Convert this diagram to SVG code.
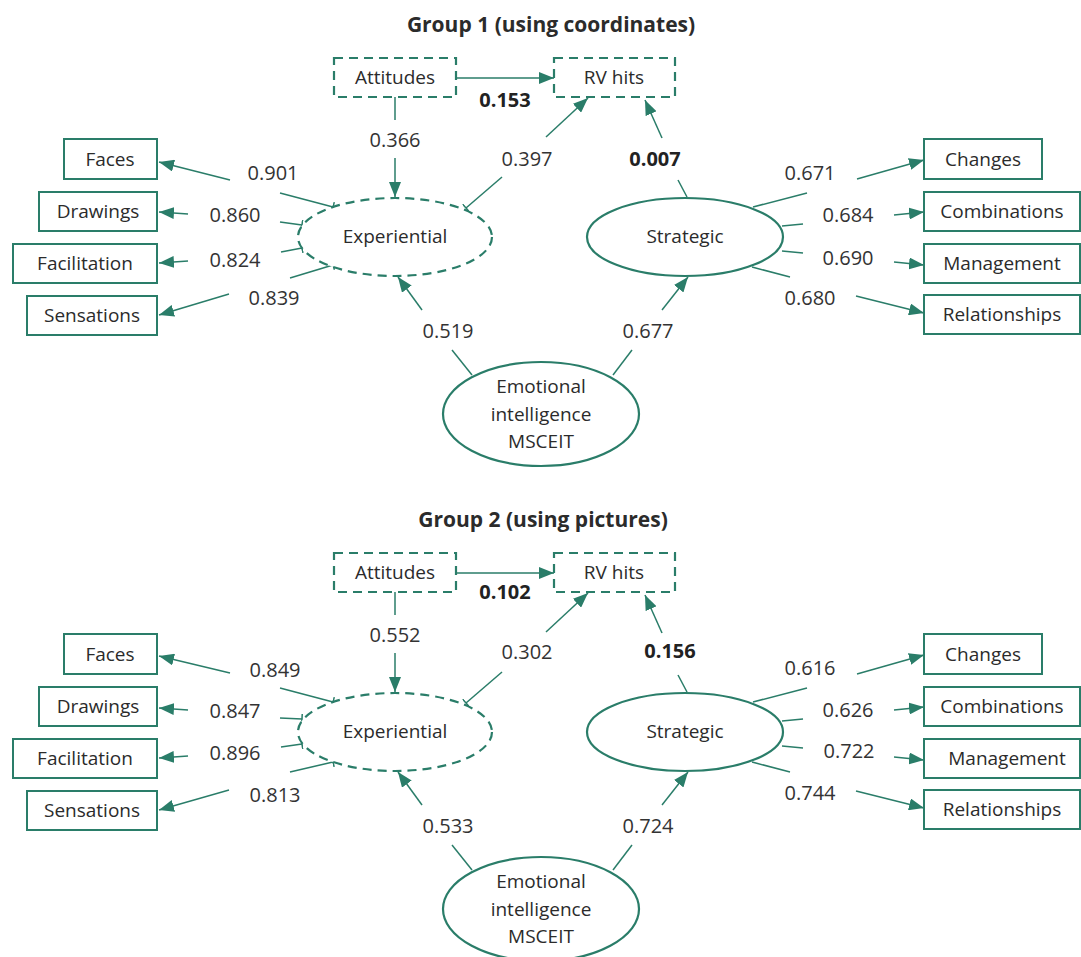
<svg xmlns="http://www.w3.org/2000/svg" width="1081" height="957" viewBox="0 0 1081 957">
<style>
text{font-family:"Open Sans","Noto Sans","Liberation Sans",sans-serif;fill:#2b2b2b;font-size:19px;text-anchor:middle}
.title{font-size:21px;font-weight:bold}
.n{font-size:20px;fill:#333}
.b{font-weight:bold;fill:#222}
.box{fill:#fff;stroke:#2a7d69;stroke-width:2}
.dbox{fill:#fff;stroke:#2a7d69;stroke-width:2.2;stroke-dasharray:9,6}
.ell{fill:#fff;stroke:#2a7d69;stroke-width:2.2}
.dell{fill:#fff;stroke:#2a7d69;stroke-width:2.2;stroke-dasharray:9,6}
.ln{fill:none;stroke:#2a7d69;stroke-width:1.5}
.ar{marker-end:url(#arr)}
.te{marker-end:url(#tee)}
</style>
<defs>
<marker id="arr" markerUnits="userSpaceOnUse" markerWidth="15" markerHeight="12" refX="15" refY="6" orient="auto" viewBox="0 0 15 12">
<path d="M0,0 L15,6 L0,12 z" fill="#2a7d69"/>
</marker>
<marker id="tee" markerUnits="userSpaceOnUse" markerWidth="2" markerHeight="10" refX="1" refY="5" orient="auto" viewBox="0 0 2 10">
<path d="M1,0 V10" stroke="#2a7d69" stroke-width="1.5"/>
</marker>
</defs>

<text class="title" x="551" y="32">Group 1 (using coordinates)</text>
<g id="g1-connectors">
<line class="ln ar" x1="456" y1="78" x2="554" y2="78"/>
<line class="ln" x1="395" y1="97" x2="395" y2="120"/>
<line class="ln ar" x1="395" y1="158" x2="395" y2="197"/>
<line class="ln te" x1="502" y1="177" x2="466" y2="208"/>
<line class="ln ar" x1="546" y1="137" x2="588" y2="98"/>
<line class="ln" x1="687" y1="197" x2="678" y2="180"/>
<line class="ln ar" x1="662" y1="138" x2="645" y2="100"/>
<line class="ln ar" x1="230" y1="180" x2="159" y2="162"/>
<line class="ln te" x1="280" y1="193" x2="333" y2="207"/>
<line class="ln ar" x1="188" y1="214" x2="159" y2="212"/>
<line class="ln te" x1="280" y1="222" x2="302" y2="225"/>
<line class="ln ar" x1="188" y1="261" x2="159" y2="263"/>
<line class="ln te" x1="281" y1="252" x2="302" y2="248"/>
<line class="ln ar" x1="229" y1="294" x2="159" y2="315"/>
<line class="ln te" x1="290" y1="278" x2="333" y2="265"/>
<line class="ln" x1="753" y1="207" x2="807" y2="193"/>
<line class="ln ar" x1="857" y1="179" x2="924" y2="160"/>
<line class="ln" x1="782" y1="226" x2="803" y2="224"/>
<line class="ln ar" x1="894" y1="215" x2="924" y2="212"/>
<line class="ln" x1="782" y1="251" x2="803" y2="253"/>
<line class="ln ar" x1="894" y1="262" x2="924" y2="265"/>
<line class="ln" x1="752" y1="267" x2="790" y2="277"/>
<line class="ln ar" x1="856" y1="296" x2="924" y2="313"/>
<line class="ln" x1="472" y1="375" x2="452" y2="350"/>
<line class="ln ar" x1="422" y1="310" x2="398" y2="277"/>
<line class="ln" x1="613" y1="375" x2="632" y2="350"/>
<line class="ln ar" x1="662" y1="310" x2="688" y2="277"/>
<text class="n b" x="505" y="107">0.153</text>
<text class="n" x="395" y="147">0.366</text>
<text class="n" x="527" y="166">0.397</text>
<text class="n b" x="655" y="166">0.007</text>
<text class="n" x="273" y="180">0.901</text>
<text class="n" x="235" y="222">0.860</text>
<text class="n" x="235" y="267">0.824</text>
<text class="n" x="274" y="305">0.839</text>
<text class="n" x="810" y="180">0.671</text>
<text class="n" x="848" y="222">0.684</text>
<text class="n" x="848" y="265">0.690</text>
<text class="n" x="810" y="305">0.680</text>
<text class="n" x="448" y="338">0.519</text>
<text class="n" x="648" y="338">0.677</text>
</g>
<g id="g1-attitudes"><rect class="dbox" x="334" y="58" width="122" height="39"/><text x="395" y="84">Attitudes</text></g>
<g id="g1-rvhits"><rect class="dbox" x="554" y="58" width="121" height="39"/><text x="614" y="84">RV hits</text></g>
<g id="g1-experiential"><ellipse class="dell" cx="395" cy="237" rx="97" ry="39"/><text x="395" y="243">Experiential</text></g>
<g id="g1-strategic"><ellipse class="ell" cx="685" cy="237" rx="98" ry="39"/><text x="685" y="243">Strategic</text></g>
<g id="g1-emotional"><ellipse class="ell" cx="541" cy="414" rx="98" ry="52"/><text x="541" y="393">Emotional</text><text x="541" y="421">intelligence</text><text x="541" y="448">MSCEIT</text></g>
<g id="g1-faces"><rect class="box" x="64" y="139" width="93" height="40"/><text x="110" y="166">Faces</text></g>
<g id="g1-drawings"><rect class="box" x="39" y="192" width="118" height="39"/><text x="98" y="218">Drawings</text></g>
<g id="g1-facilitation"><rect class="box" x="13" y="244" width="144" height="39"/><text x="85" y="270">Facilitation</text></g>
<g id="g1-sensations"><rect class="box" x="27" y="296" width="130" height="39"/><text x="92" y="322">Sensations</text></g>
<g id="g1-changes"><rect class="box" x="924" y="139" width="118" height="40"/><text x="983" y="166">Changes</text></g>
<g id="g1-combinations"><rect class="box" x="924" y="192" width="156" height="39"/><text x="1002" y="218">Combinations</text></g>
<g id="g1-management"><rect class="box" x="924" y="244" width="156" height="39"/><text x="1002" y="270">Management</text></g>
<g id="g1-relationships"><rect class="box" x="924" y="295" width="156" height="39"/><text x="1002" y="321">Relationships</text></g>

<text class="title" x="543" y="527">Group 2 (using pictures)</text>
<g transform="translate(0,495)">
<g id="g2-connectors">
<line class="ln ar" x1="456" y1="78" x2="554" y2="78"/>
<line class="ln" x1="395" y1="97" x2="395" y2="120"/>
<line class="ln ar" x1="395" y1="158" x2="395" y2="197"/>
<line class="ln te" x1="502" y1="177" x2="466" y2="208"/>
<line class="ln ar" x1="546" y1="137" x2="588" y2="98"/>
<line class="ln" x1="687" y1="197" x2="678" y2="180"/>
<line class="ln ar" x1="662" y1="138" x2="645" y2="100"/>
<line class="ln ar" x1="230" y1="178" x2="159" y2="161"/>
<line class="ln te" x1="280" y1="193" x2="333" y2="207"/>
<line class="ln ar" x1="188" y1="215" x2="159" y2="213"/>
<line class="ln te" x1="280" y1="223" x2="302" y2="224"/>
<line class="ln ar" x1="188" y1="261" x2="159" y2="263"/>
<line class="ln te" x1="281" y1="252" x2="302" y2="249"/>
<line class="ln ar" x1="229" y1="295" x2="159" y2="315"/>
<line class="ln te" x1="290" y1="277" x2="333" y2="267"/>
<line class="ln" x1="753" y1="207" x2="807" y2="193"/>
<line class="ln ar" x1="857" y1="179" x2="924" y2="160"/>
<line class="ln" x1="782" y1="226" x2="803" y2="224"/>
<line class="ln ar" x1="894" y1="215" x2="924" y2="212"/>
<line class="ln" x1="782" y1="251" x2="803" y2="253"/>
<line class="ln ar" x1="894" y1="262" x2="924" y2="265"/>
<line class="ln" x1="752" y1="267" x2="790" y2="277"/>
<line class="ln ar" x1="856" y1="296" x2="924" y2="313"/>
<line class="ln" x1="472" y1="375" x2="452" y2="350"/>
<line class="ln ar" x1="422" y1="310" x2="398" y2="277"/>
<line class="ln" x1="613" y1="375" x2="632" y2="350"/>
<line class="ln ar" x1="662" y1="310" x2="688" y2="277"/>
<text class="n b" x="505" y="104">0.102</text>
<text class="n" x="395" y="147">0.552</text>
<text class="n" x="527" y="164">0.302</text>
<text class="n b" x="670" y="163">0.156</text>
<text class="n" x="275" y="182">0.849</text>
<text class="n" x="235" y="223">0.847</text>
<text class="n" x="235" y="265">0.896</text>
<text class="n" x="275" y="307">0.813</text>
<text class="n" x="810" y="180">0.616</text>
<text class="n" x="848" y="222">0.626</text>
<text class="n" x="849" y="263">0.722</text>
<text class="n" x="810" y="305">0.744</text>
<text class="n" x="448" y="338">0.533</text>
<text class="n" x="648" y="338">0.724</text>
</g>
<g id="g2-attitudes"><rect class="dbox" x="334" y="58" width="122" height="39"/><text x="395" y="84">Attitudes</text></g>
<g id="g2-rvhits"><rect class="dbox" x="554" y="58" width="121" height="39"/><text x="614" y="84">RV hits</text></g>
<g id="g2-experiential"><ellipse class="dell" cx="395" cy="237" rx="97" ry="39"/><text x="395" y="243">Experiential</text></g>
<g id="g2-strategic"><ellipse class="ell" cx="685" cy="237" rx="98" ry="39"/><text x="685" y="243">Strategic</text></g>
<g id="g2-emotional"><ellipse class="ell" cx="541" cy="414" rx="98" ry="52"/><text x="541" y="393">Emotional</text><text x="541" y="421">intelligence</text><text x="541" y="448">MSCEIT</text></g>
<g id="g2-faces"><rect class="box" x="64" y="139" width="93" height="40"/><text x="110" y="166">Faces</text></g>
<g id="g2-drawings"><rect class="box" x="39" y="192" width="118" height="39"/><text x="98" y="218">Drawings</text></g>
<g id="g2-facilitation"><rect class="box" x="13" y="244" width="144" height="39"/><text x="85" y="270">Facilitation</text></g>
<g id="g2-sensations"><rect class="box" x="27" y="296" width="130" height="39"/><text x="92" y="322">Sensations</text></g>
<g id="g2-changes"><rect class="box" x="924" y="139" width="118" height="40"/><text x="983" y="166">Changes</text></g>
<g id="g2-combinations"><rect class="box" x="924" y="192" width="156" height="39"/><text x="1002" y="218">Combinations</text></g>
<g id="g2-management"><rect class="box" x="924" y="244" width="156" height="39"/><text x="1007" y="270">Management</text></g>
<g id="g2-relationships"><rect class="box" x="924" y="295" width="156" height="39"/><text x="1002" y="321">Relationships</text></g>
</g>
</svg>
